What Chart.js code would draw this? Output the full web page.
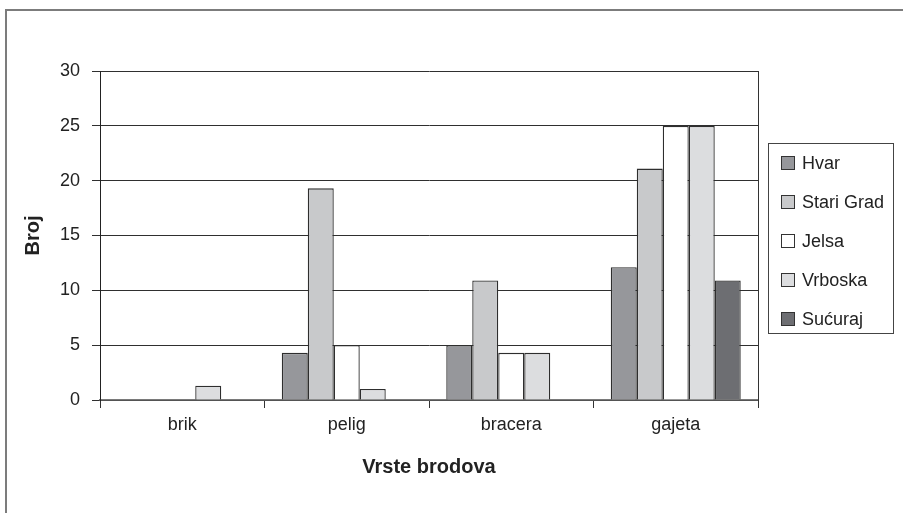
<!DOCTYPE html>
<html>
<head>
<meta charset="utf-8">
<title>Vrste brodova</title>
<script src="https://cdn.jsdelivr.net/npm/chart.js@4/dist/chart.umd.min.js"></script>
<style>
  html, body { margin: 0; padding: 0; background: #fff; overflow: hidden; }
  #frame {
    position: absolute; left: 5px; top: 9px; width: 1000px; height: 700px;
    border-left: 2px solid #7c7c7c; border-top: 2px solid #7c7c7c;
  }
  #wrap { position: absolute; left: 0; top: 0; width: 903px; height: 513px; }
</style>
</head>
<body>
<div id="frame"></div>
<div id="wrap"><canvas id="chart" width="903" height="513"></canvas></div>
<script>
// Ship types (categories) and number of ships per harbour
const categories = ['brik', 'pelig', 'bracera', 'gajeta'];
const seriesNames = ['Hvar', 'Stari Grad', 'Jelsa', 'Vrboska', 'Sućuraj'];
const hvar      = [0, 4.3, 5, 12.1];
const stariGrad = [0, 19.3, 10.9, 21.1];
const jelsa     = [0, 5, 4.3, 25];
const vrboska   = [1.3, 1, 4.3, 25];
const sucuraj   = [0, 0, 0, 10.9];
const yTicks    = [0, 5, 10, 15, 20, 25, 30];

const fills = ['#96979b', '#c8c9cb', '#ffffff', '#dcdddf', '#6d6e72'];
const seriesValues = [hvar, stariGrad, jelsa, vrboska, sucuraj];

const FONT = "'Liberation Sans', Arial, sans-serif";
const TEXT = '#222222';

// Boxed legend at the right and the right-hand frame line of the plot area
const boxedLegend = {
  id: 'boxedLegend',
  afterDraw(chart) {
    const ctx = chart.ctx;
    const area = chart.chartArea;
    ctx.save();
    ctx.strokeStyle = '#333333';
    ctx.lineWidth = 1;
    ctx.beginPath();
    ctx.moveTo(Math.round(area.right) + 0.5, area.top);
    ctx.lineTo(Math.round(area.right) + 0.5, area.bottom + 8);
    ctx.stroke();

    const bx = 768.5, by = 143.5, bw = 125, bh = 190;
    ctx.strokeStyle = '#444444';
    ctx.strokeRect(bx, by, bw, bh);
    ctx.font = '18px ' + FONT;
    ctx.textBaseline = 'middle';
    ctx.textAlign = 'left';
    chart.data.datasets.forEach((ds, i) => {
      const cy = 163 + i * 39;
      ctx.fillStyle = ds.backgroundColor;
      ctx.fillRect(781.5, cy - 6.5, 13, 13);
      ctx.strokeStyle = '#333333';
      ctx.strokeRect(781.5, cy - 6.5, 13, 13);
      ctx.fillStyle = TEXT;
      ctx.fillText(ds.label, 802, cy + 1);
    });
    ctx.restore();
  }
};

new Chart(document.getElementById('chart'), {
  type: 'bar',
  data: {
    labels: categories,
    datasets: seriesNames.map((name, i) => ({
      label: name,
      data: seriesValues[i],
      backgroundColor: fills[i],
      borderColor: '#2e2e2e',
      borderWidth: 1.3,
      borderSkipped: 'bottom',
      categoryPercentage: 0.79,
      barPercentage: 1.0
    }))
  },
  options: {
    responsive: false,
    animation: false,
    layout: { padding: { left: 20, top: 71, right: 145, bottom: 20 } },
    plugins: {
      legend: { display: false },
      tooltip: { enabled: false }
    },
    scales: {
      x: {
        offset: true,
        grid: {
          offset: true,
          drawOnChartArea: false,
          drawTicks: true,
          tickLength: 8,
          color: '#333333',
          lineWidth: 1
        },
        border: { display: true, color: '#7a7a7a', width: 1.5 },
        ticks: { color: TEXT, font: { family: FONT, size: 18 }, padding: 6 },
        title: {
          display: true,
          text: 'Vrste brodova',
          color: TEXT,
          font: { family: FONT, size: 20, weight: 'bold' },
          padding: { top: 0, bottom: 14 }
        },
        afterFit(scale) { scale.height = 93; }
      },
      y: {
        min: 0,
        max: 30,
        afterBuildTicks(scale) { scale.ticks = yTicks.map(v => ({ value: v })); },
        grid: { color: '#2f2f2f', lineWidth: 1, tickLength: 8, drawTicks: true },
        border: { display: true, color: '#222222', width: 1 },
        ticks: { color: TEXT, font: { family: FONT, size: 18 }, padding: 12 },
        title: {
          display: true,
          text: 'Broj',
          color: TEXT,
          font: { family: FONT, size: 20, weight: 'bold' },
          padding: { top: 1, bottom: 0 }
        },
        afterFit(scale) { scale.width = 80; }
      }
    }
  },
  plugins: [boxedLegend]
});
</script>
</body>
</html>
